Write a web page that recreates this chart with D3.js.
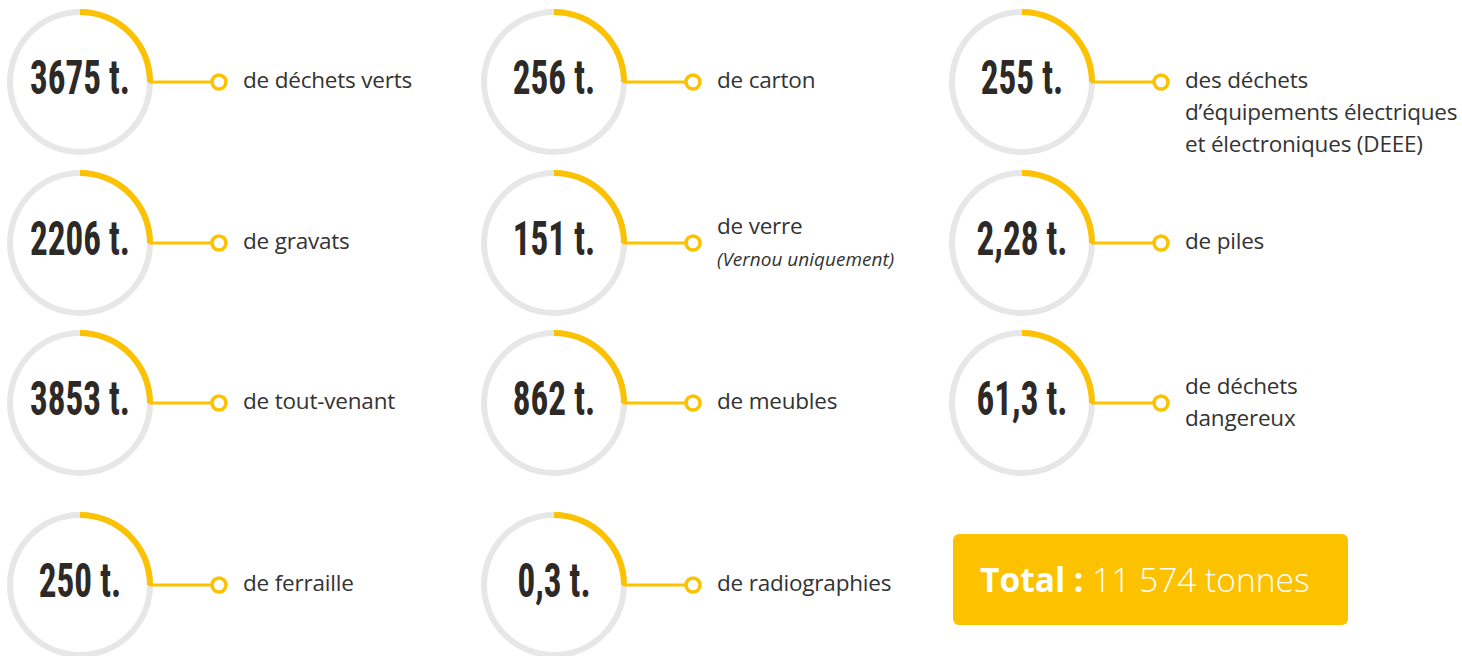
<!DOCTYPE html>
<html>
<head>
<meta charset="utf-8">
<script src="https://cdn.jsdelivr.net/npm/d3@7"></script>
<style>
  html, body { margin: 0; padding: 0; background: #ffffff; }
  svg { display: block; }
</style>
</head>
<body>
<svg id="chart" width="1462" height="656"></svg>
<script>
// ---------- DATA (column-major order: 4 rows per column) ----------
const tonnes = [3675, 2206, 3853, 250, 256, 151, 862, 0.3, 255, 2.28, 61.3];
const labels = [
  ["de déchets verts"],
  ["de gravats"],
  ["de tout-venant"],
  ["de ferraille"],
  ["de carton"],
  ["de verre"],
  ["de meubles"],
  ["de radiographies"],
  ["des déchets", "d’équipements électriques", "et électroniques (DEEE)"],
  ["de piles"],
  ["de déchets", "dangereux"]
];
const notes = ["", "", "", "", "", "(Vernou uniquement)", "", "", "", "", ""];
const unit = "t.";
const totalLabel = "Total :";
const totalValue = 11574;
const totalUnit = "tonnes";

// ---------- STYLE / LAYOUT ----------
const YELLOW = "#fcc200";
const GREY = "#e7e7e7";
const NUM_COLOR = "#2d2926";
const TXT_COLOR = "#333333";
const ROWS = 4;
const R_OUT = 73, R_IN = 67;
const MARK_DX = 139, MARK_R = 7;
const TEXT_DX = 163;
const LINE_H = 32;

const fr = d3.formatLocale({decimal: ",", thousands: "\u00a0", grouping: [3], currency: ["", " €"]});
const fmtNum = fr.format("");
const fmtTotal = fr.format(",");

const xCol = d3.scaleOrdinal().domain([0, 1, 2]).range([80, 554, 1022]);
const yRow = d3.scaleOrdinal().domain([0, 1, 2, 3]).range([82, 243, 403, 585]);

const items = tonnes.map((v, i) => ({
  value: v, label: labels[i], note: notes[i],
  col: Math.floor(i / ROWS), row: i % ROWS
}));

const svg = d3.select("#chart");

const ringArc = d3.arc().innerRadius(R_IN).outerRadius(R_OUT);
const qArc = d3.arc().innerRadius(R_IN).outerRadius(R_OUT).startAngle(0).endAngle(Math.PI / 2);

const g = svg.selectAll("g.item").data(items).join("g")
  .attr("class", "item")
  .attr("transform", d => `translate(${xCol(d.col)},${yRow(d.row)})`);

g.append("path").attr("d", ringArc({startAngle: 0, endAngle: 2 * Math.PI})).attr("fill", GREY);
g.append("path").attr("d", qArc()).attr("fill", YELLOW);

g.append("line")
  .attr("x1", R_IN + 2).attr("x2", MARK_DX - MARK_R)
  .attr("y1", 0).attr("y2", 0)
  .attr("stroke", YELLOW).attr("stroke-width", 3);

g.append("circle")
  .attr("cx", MARK_DX).attr("cy", 0).attr("r", MARK_R)
  .attr("fill", "#fff").attr("stroke", YELLOW).attr("stroke-width", 3.5);

// number text, condensed
const NUM_FONT = "'Liberation Sans Narrow', 'Roboto Condensed', 'DejaVu Sans Condensed', 'Arial Narrow', 'Liberation Sans', sans-serif";
const NUM_FS = 48;
const nums = g.append("text")
  .attr("class", "num")
  .attr("text-anchor", "middle")
  .attr("font-family", NUM_FONT)
  .attr("font-weight", 700)
  .attr("font-size", NUM_FS)
  .attr("fill", NUM_COLOR)
  .text(d => `${fmtNum(d.value)} ${unit}`);

// measure digit width and scale horizontally to match condensed look
const probe = svg.append("text")
  .attr("font-family", NUM_FONT)
  .attr("font-weight", 700).attr("font-size", NUM_FS).text("0000");
const digitW = probe.node().getComputedTextLength() / 4;
probe.remove();
const sx = Math.min(1, (0.37 * NUM_FS) / digitW);
nums.attr("transform", `translate(0,12) scale(${sx},1)`);

// labels
const lab = g.append("text")
  .attr("font-family", "'Open Sans', 'Noto Sans', sans-serif")
  .attr("font-size", 22.5)
  .attr("letter-spacing", -0.2)
  .attr("fill", TXT_COLOR)
  .attr("x", TEXT_DX)
  .attr("y", d => (d.label.length + (d.note ? 1 : 0)) === 2 ? 7 - LINE_H / 2 : 6);

lab.selectAll("tspan.l").data(d => d.label).join("tspan")
  .attr("class", "l")
  .attr("x", TEXT_DX)
  .attr("dy", (d, i) => i === 0 ? 0 : LINE_H)
  .text(d => d);

lab.filter(d => d.note).append("tspan")
  .attr("x", TEXT_DX)
  .attr("dy", LINE_H)
  .attr("font-style", "italic")
  .attr("font-size", 19)
  .attr("letter-spacing", 0)
  .text(d => d.note);

// total box
const tg = svg.append("g")
  .attr("transform", `translate(${xCol(2)},${yRow(3)})`);
tg.append("rect")
  .attr("x", -69).attr("y", -51)
  .attr("width", 395).attr("height", 91)
  .attr("rx", 6).attr("ry", 6)
  .attr("fill", YELLOW);
const tt = tg.append("text")
  .attr("x", -42).attr("y", 7)
  .attr("font-family", "'Open Sans', 'Noto Sans', sans-serif")
  .attr("font-size", 33.5)
  .attr("fill", "#ffffff");
tt.append("tspan").attr("font-weight", 700).text(totalLabel);
tt.append("tspan").attr("font-weight", 300).text(` ${fmtTotal(totalValue)} ${totalUnit}`);
</script>
</body>
</html>
